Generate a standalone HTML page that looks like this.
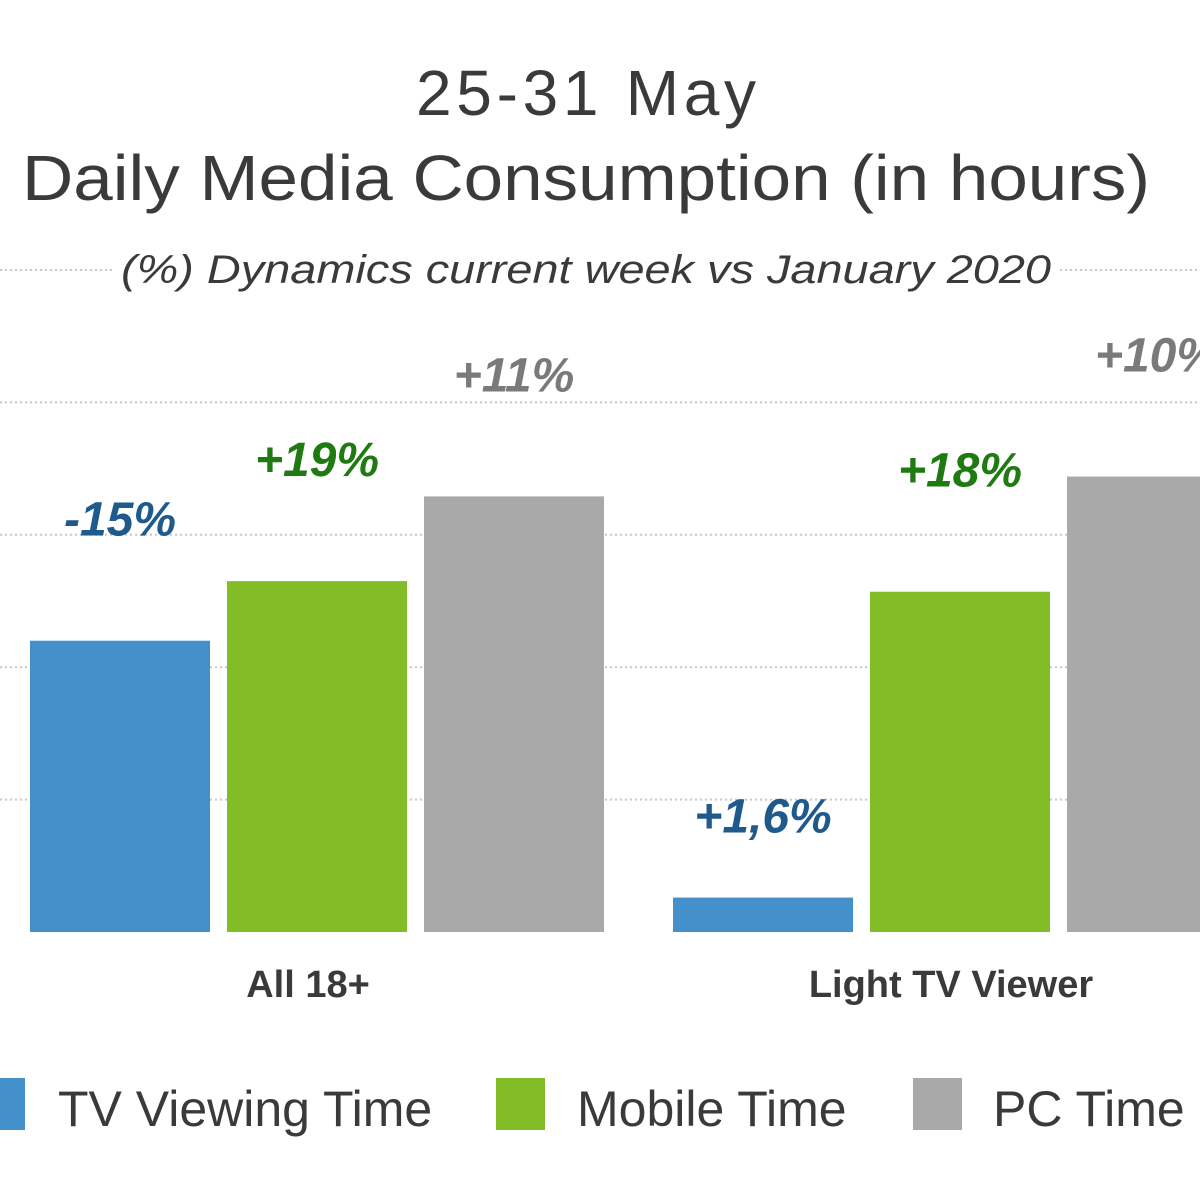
<!DOCTYPE html>
<html><head><meta charset="utf-8"><style>
html,body{margin:0;padding:0;background:#fff;width:1200px;height:1200px;overflow:hidden}
svg{display:block;font-family:"Liberation Sans",Arial,sans-serif}
</style></head><body>
<svg id="chart" width="1200" height="1200" viewBox="0 0 1200 1200">
<g id="grid"></g>
<rect x="115" y="240" width="945" height="60" fill="#fff"/>
<text x="586" y="115" text-anchor="middle" font-size="64" fill="#3a3a3a" textLength="340">25-31 May</text>
<text x="586" y="200" text-anchor="middle" font-size="64" fill="#3a3a3a" textLength="1128" lengthAdjust="spacingAndGlyphs">Daily Media Consumption (in hours)</text>
<text x="586" y="283" text-anchor="middle" font-size="40" font-style="italic" fill="#3a3a3a" textLength="930" lengthAdjust="spacingAndGlyphs">(%) Dynamics current week  vs January 2020</text>
<g id="bars"></g>
<g id="labels"></g>
<g id="cats"></g>
<g>
<rect x="-25" y="1078" width="50" height="52" fill="#4390cb"/>
<text x="58" y="1126" font-size="50" fill="#3a3a3a">TV Viewing Time</text>
<rect x="496" y="1078" width="49" height="52" fill="#82bc27"/>
<text x="577" y="1126" font-size="50" fill="#3a3a3a">Mobile Time</text>
<rect x="913" y="1078" width="49" height="52" fill="#a9a9a9"/>
<text x="993" y="1126" font-size="50" fill="#3a3a3a">PC Time</text>
</g>
</svg>
<script>
const categories = ["All 18+", "Light TV Viewer"];
const tvValues = [2.2, 0.26];
const mobileValues = [2.65, 2.57];
const pcValues = [3.29, 3.44];
const tvLabels = ["-15%", "+1,6%"];
const mobileLabels = ["+19%", "+18%"];
const pcLabels = ["+11%", "+10%"];
const gridTicks = [0, 1, 2, 3, 4, 5];

const NS = "http://www.w3.org/2000/svg";
const baseY = 932, unit = 132.4;
const y = v => baseY - v * unit;
const groupX = i => 30 + i * 643;
const barW = 180, step = 197;
function mk(tag, attrs, parent) {
  const e = document.createElementNS(NS, tag);
  for (const k in attrs) e.setAttribute(k, attrs[k]);
  parent.appendChild(e);
  return e;
}
const grid = document.getElementById('grid');
gridTicks.forEach(t => {
  if (t === 0) return;
  const l = mk('line', {x1: 0, x2: 1200, y1: y(t), y2: y(t), stroke: '#c8c8c8', 'stroke-width': 2, 'stroke-dasharray': '2 3'}, grid);
  
  
});
const series = [
  {vals: tvValues, labels: tvLabels, color: '#4390cb', lc: '#1f5a8c', name: 'tv'},
  {vals: mobileValues, labels: mobileLabels, color: '#82bc27', lc: '#1f7a12', name: 'mobile'},
  {vals: pcValues, labels: pcLabels, color: '#a9a9a9', lc: '#7a7a7a', name: 'pc'}
];
const bars = document.getElementById('bars'), labels = document.getElementById('labels'), cats = document.getElementById('cats');
categories.forEach((c, i) => {
  series.forEach((s, j) => {
    const x = groupX(i) + j * step;
    const r = mk('rect', {x: x, y: y(s.vals[i]), width: barW, height: baseY - y(s.vals[i]), fill: s.color}, bars);
    
    
    const off = s.vals[i] < 0.5 ? 65 : 105;
    const t = mk('text', {x: x + barW / 2, y: y(s.vals[i]) - off, 'text-anchor': 'middle', 'font-size': 48, 'font-weight': 'bold', 'font-style': 'italic', fill: s.lc}, labels);
    t.textContent = s.labels[i];
    
    
  });
  const ct = mk('text', {x: groupX(i) + step + barW / 2 - 9, y: 997, 'text-anchor': 'middle', 'font-size': 38, 'font-weight': 'bold', fill: '#3a3a3a'}, cats);
  ct.textContent = c;
  
  
});
</script>
</body></html>
